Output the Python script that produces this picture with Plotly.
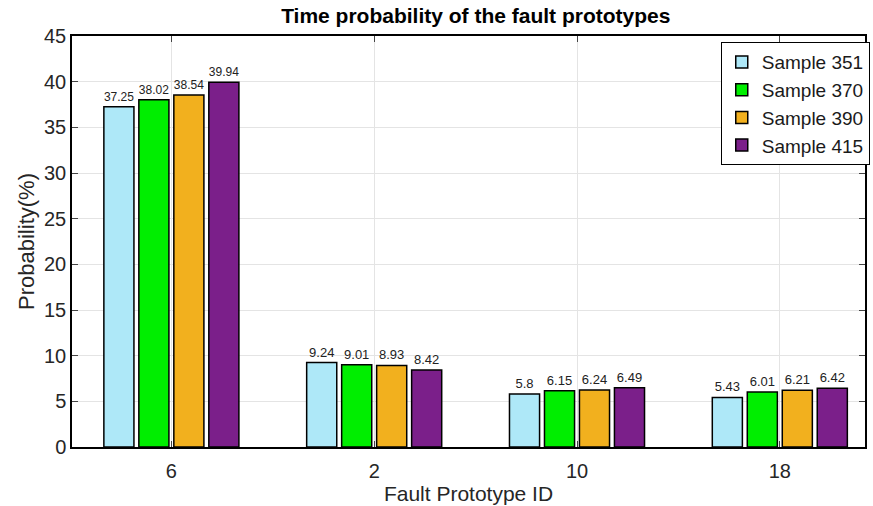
import plotly.graph_objects as go

categories = ["6", "2", "10", "18"]
series_names = ["Sample 351", "Sample 370", "Sample 390", "Sample 415"]
s351 = [37.25, 9.24, 5.8, 5.43]
s370 = [38.02, 9.01, 6.15, 6.01]
s390 = [38.54, 8.93, 6.24, 6.21]
s415 = [39.94, 8.42, 6.49, 6.42]
colors = ["#aee8f8", "#00ee00", "#f2b01e", "#7b1f8a"]

fig = go.Figure()
for name, vals, col in zip(series_names, [s351, s370, s390, s415], colors):
    fig.add_trace(go.Bar(
        x=categories, y=vals, name=name,
        marker=dict(color=col, line=dict(color="black", width=1.5)),
        text=[f"{v:g}" for v in vals], textposition="outside",
        textfont=dict(size=13, color="#222", family="Arial"),
        cliponaxis=False,
    ))

fig.update_layout(
    width=873, height=506,
    margin=dict(l=72, r=8, t=36, b=59, autoexpand=False),
    paper_bgcolor="white", plot_bgcolor="white",
    barmode="group", bargap=0.31, bargroupgap=0.14,
    font=dict(family="Arial", size=20, color="#262626"),
    title=dict(text="<b>Time probability of the fault prototypes</b>", x=0.545, xanchor="center",
               y=0.97, yanchor="middle", font=dict(size=21, color="black"), automargin=False),
    xaxis=dict(title=dict(text="Fault Prototype ID", standoff=6, font=dict(size=21)),
               range=[-0.49, 3.42], automargin=False, ticklabelstandoff=5,
               showline=True, linecolor="black",
               linewidth=1.5, mirror="ticks", ticks="inside", ticklen=6, showgrid=True,
               gridcolor="#e4e4e4", tickfont=dict(size=20)),
    yaxis=dict(title=dict(text="Probability(%)", standoff=3, font=dict(size=22)), range=[0, 45], dtick=5,
               automargin=False,
               showline=True, linecolor="black", linewidth=1.5, mirror="ticks",
               ticks="inside", ticklen=6, showgrid=True, gridcolor="#e4e4e4",
               tickfont=dict(size=20), zeroline=False),
    legend=dict(x=1.006, y=0.985, xanchor="right", yanchor="top", bgcolor="white",
                bordercolor="black", borderwidth=1, font=dict(size=19, color="#1a1a1a"),
                itemwidth=30, tracegroupgap=0),
    showlegend=True,
)
fig.write_html("out.html", config={"displayModeBar": False},
               post_script="document.body.style.margin='0';document.body.style.overflow='hidden';")
